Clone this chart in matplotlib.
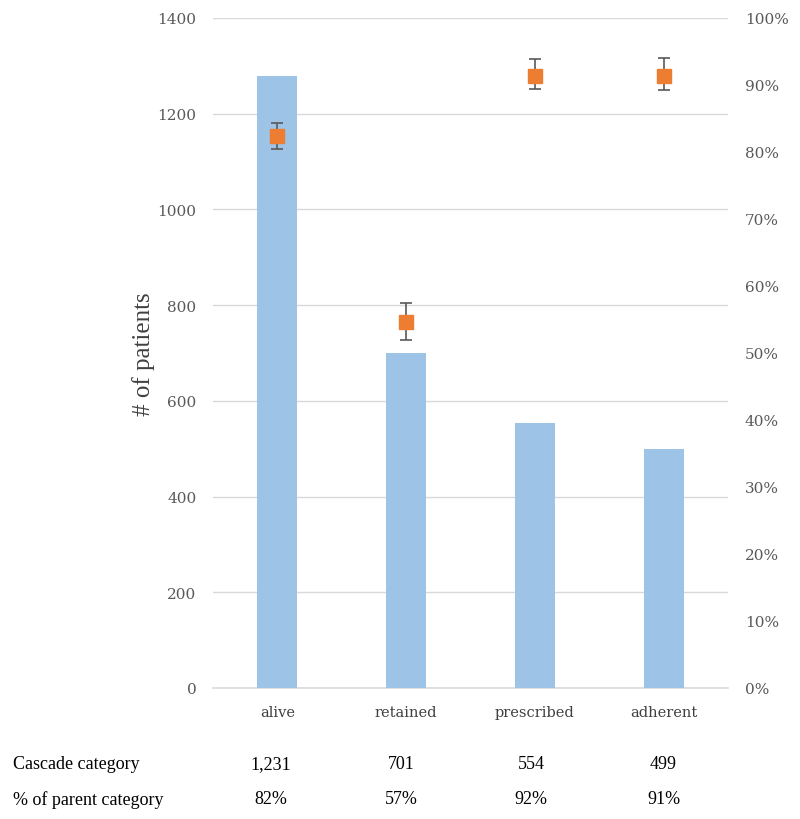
import matplotlib
matplotlib.use("Agg")
import matplotlib.pyplot as plt
import matplotlib.transforms as mtransforms
from matplotlib.ticker import FuncFormatter

categories = ["alive", "retained", "prescribed", "adherent"]
patients = [1278, 699, 553, 499]
pct_parent = [82.4, 54.7, 91.4, 91.4]
pct_err_low = [80.5, 52.0, 89.4, 89.3]
pct_err_high = [84.3, 57.5, 93.9, 94.0]
table_counts = ["1,231", "701", "554", "499"]
table_pcts = ["82%", "57%", "92%", "91%"]
row_labels = ["Cascade category", "% of parent category"]

fig = plt.figure(figsize=(8, 8.2), dpi=100)
ax = fig.add_axes([213/800, 1-689/820, (728-213)/800, (689-19)/820])
x = list(range(len(categories)))
ax.bar(x, patients, width=0.31, color="#9DC3E6", zorder=2)
ax.set_xlim(-0.5, len(categories)-0.5)
ax.set_ylim(0, 1400)
ax.set_yticks(range(0, 1401, 200))
ax.yaxis.grid(True, color="#D9D9D9", lw=1, zorder=0)
ax.axhline(0, color="#D9D9D9", lw=1.2, clip_on=False, zorder=1)
ax.set_axisbelow(True)
for s in ax.spines.values():
    s.set_visible(False)
ax.tick_params(axis="both", length=0, colors="#595959", labelsize=11)
ax.tick_params(axis="y", pad=12)
ax.tick_params(axis="x", pad=12)
ax.set_xticks(x)
ax.set_xticklabels(categories, family="DejaVu Serif", fontsize=10.5, color="#404040")
for t in ax.get_yticklabels():
    t.set_family("DejaVu Serif")
ax.set_ylabel("# of patients", fontdict={"family": "Liberation Serif", "size": 18},
              color="#404040", labelpad=2)

ax2 = ax.twinx()
ax2.set_ylim(0, 100)
ax2.set_yticks(range(0, 101, 10))
ax2.yaxis.set_major_formatter(FuncFormatter(lambda v, p: f"{int(v)}%"))
for s in ax2.spines.values():
    s.set_visible(False)
ax2.tick_params(axis="y", length=0, colors="#595959", labelsize=11, pad=12)
for t in ax2.get_yticklabels():
    t.set_family("DejaVu Serif")
yerr = [[p - l for p, l in zip(pct_parent, pct_err_low)],
        [h - p for p, h in zip(pct_parent, pct_err_high)]]
ax2.errorbar(x, pct_parent, yerr=yerr, fmt="s", color="#ED7D31", ms=10,
             ecolor="#595959", elinewidth=1.2, capsize=4, capthick=1.2, zorder=3)

# Table below the chart
fs = 13
fig.text(13/800, 1-765/820, row_labels[0], family="Liberation Serif", fontsize=fs, va="center", color="black")
fig.text(13/800, 1-800/820, row_labels[1], family="Liberation Serif", fontsize=fs, va="center", color="black")
blend = mtransforms.blended_transform_factory(ax.transData, fig.transFigure)
offsets = [-0.05, -0.04, -0.03, 0.0]
for i in x:
    ax.text(i + offsets[i], 1-765/820, table_counts[i], transform=blend, family="Liberation Serif",
            fontsize=fs, ha="center", va="center", color="black")
    ax.text(i + offsets[i], 1-800/820, table_pcts[i], transform=blend, family="Liberation Serif",
            fontsize=fs, ha="center", va="center", color="black")

fig.savefig("out.png", dpi=100, facecolor="white")
